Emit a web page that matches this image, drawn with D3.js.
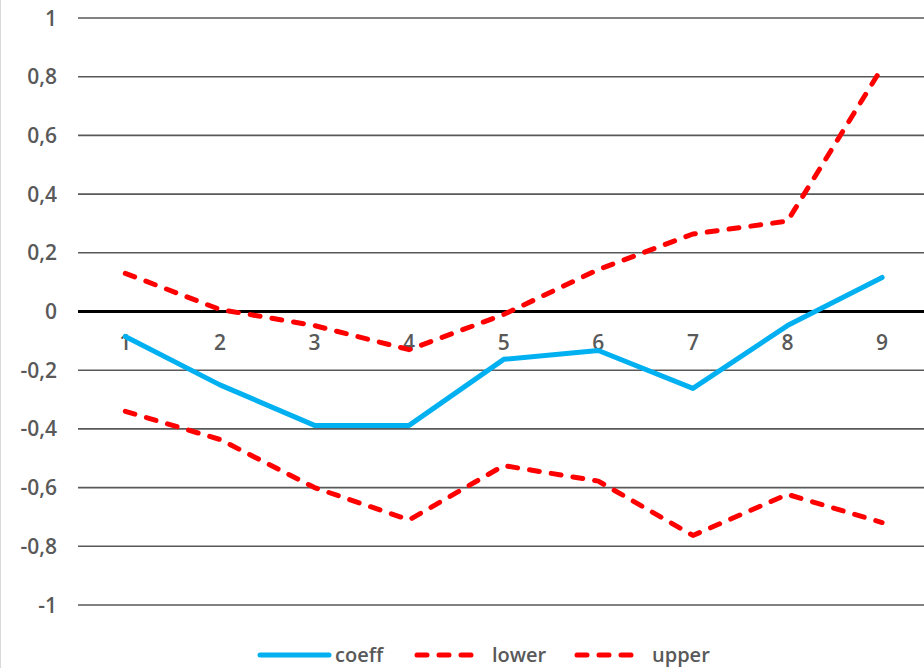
<!DOCTYPE html>
<html>
<head>
<meta charset="utf-8">
<script src="https://cdn.jsdelivr.net/npm/d3@7"></script>
<style>
  html, body { margin: 0; padding: 0; background: #fff; }
  svg { display: block; }
  text { font-family: "Open Sans", "Liberation Sans", sans-serif; font-weight: 600; fill: #595959; }
</style>
</head>
<body>
<svg id="chart" width="924" height="668"></svg>
<script>
// Regression coefficient with its lower/upper confidence bounds, per period
const categories = ["1", "2", "3", "4", "5", "6", "7", "8", "9"];
const coeff = [-0.085, -0.25, -0.388, -0.388, -0.163, -0.133, -0.262, -0.048, 0.116];
const lower = [-0.34, -0.436, -0.6, -0.71, -0.525, -0.578, -0.763, -0.623, -0.719];
const upper = [0.13, 0.007, -0.048, -0.13, -0.01, 0.143, 0.264, 0.308, 0.831];
const yTicks = [-1, -0.8, -0.6, -0.4, -0.2, 0, 0.2, 0.4, 0.6, 0.8, 1];

const svg = d3.select("#chart");
const W = 924, H = 668;

// Plot area
const left = 78, step = 94.6;
const x = d3.scaleBand().domain(categories).range([left, left + step * categories.length]);
const y = d3.scaleLinear().domain([-1, 1]).range([605, 18]);
const cx = c => x(c) + x.bandwidth() / 2;

// Thin frame line on the left edge
svg.append("line").attr("x1", 0.5).attr("x2", 0.5).attr("y1", 0).attr("y2", H)
  .attr("stroke", "#d9d9d9").attr("stroke-width", 1);

// Horizontal gridlines
svg.append("g").selectAll("line").data(yTicks.filter(d => d !== 0)).join("line")
  .attr("x1", left).attr("x2", W)
  .attr("y1", d => y(d)).attr("y2", d => y(d))
  .attr("stroke", "#595959").attr("stroke-width", 1.6);

// Y tick labels (comma as decimal separator)
const fmt = d => String(Math.round(d * 10) / 10).replace(".", ",");
svg.append("g").selectAll("text").data(yTicks).join("text")
  .attr("x", 57).attr("y", d => y(d)).attr("dy", "0.36em")
  .attr("text-anchor", "end").attr("font-size", 21)
  .text(fmt);

// Zero axis line
svg.append("line").attr("x1", left).attr("x2", W).attr("y1", y(0)).attr("y2", y(0))
  .attr("stroke", "#000").attr("stroke-width", 3);

// Category labels just under the zero line
svg.append("g").selectAll("text").data(categories).join("text")
  .attr("x", d => cx(d)).attr("y", y(0) + 31)
  .attr("dy", "0.36em").attr("text-anchor", "middle").attr("font-size", 21)
  .text(d => d);

const line = d3.line().x((d, i) => cx(categories[i])).y(d => y(d));

const series = [
  { name: "coeff", values: coeff, color: "#00b0f0", dash: null },
  { name: "lower", values: lower, color: "#ff0000", dash: "10,12" },
  { name: "upper", values: upper, color: "#ff0000", dash: "10,12" }
];

svg.append("g").selectAll("path").data(series).join("path")
  .attr("d", d => line(d.values))
  .attr("fill", "none")
  .attr("stroke", d => d.color)
  .attr("stroke-width", 5)
  .attr("stroke-linejoin", "round")
  .attr("stroke-linecap", "round")
  .attr("stroke-dasharray", d => d.dash);

// Legend
const legendX = [258, 415, 575];
const ly = 655;
const lg = svg.append("g").selectAll("g").data(series).join("g")
  .attr("transform", (d, i) => `translate(${legendX[i]},${ly})`);
lg.append("line").attr("x1", 2).attr("x2", d => d.dash ? 58 : 71).attr("y1", 0).attr("y2", 0)
  .attr("stroke", d => d.color).attr("stroke-width", 5)
  .attr("stroke-linecap", "round")
  .attr("stroke-dasharray", d => d.dash);
lg.append("text").attr("x", 77)
  .attr("y", 0).attr("dy", "0.34em").attr("font-size", 20)
  .text(d => d.name);
</script>
</body>
</html>
